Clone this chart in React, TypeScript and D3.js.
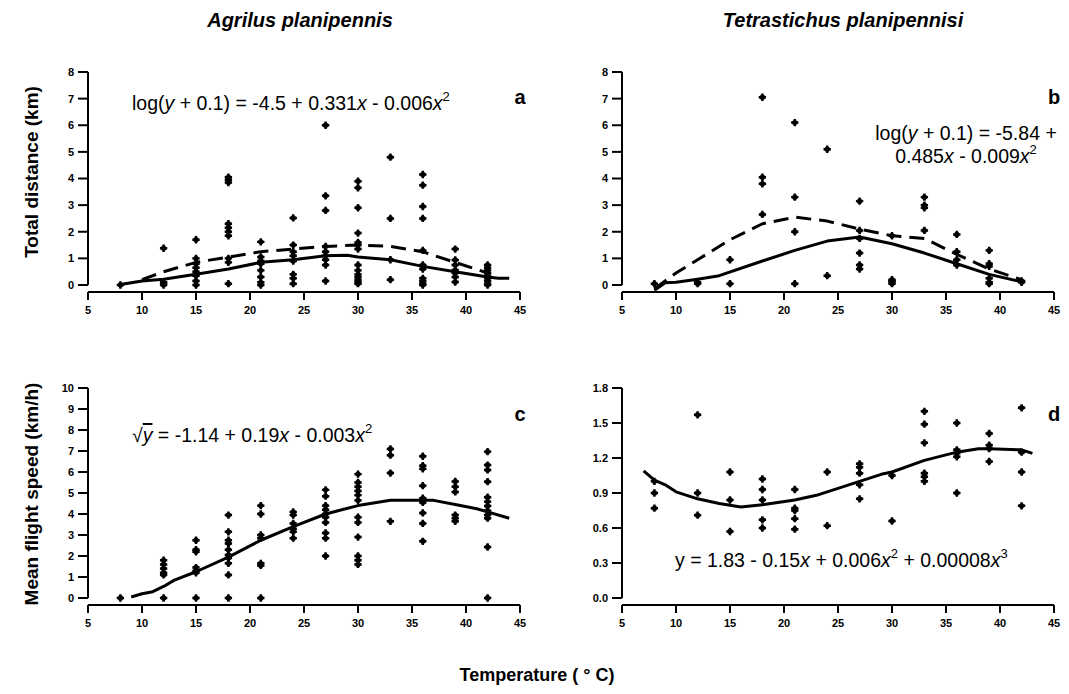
import React from 'react'
import * as d3 from 'd3'

// temperatures at which insects were flown (°C)
const rearTemps = [8, 12, 15, 18, 21, 24, 27, 30, 33, 36, 39, 42]
const tempTicks = [5, 10, 15, 20, 25, 30, 35, 40, 45]

// (a) total distance, Agrilus planipennis
const distAgrilus = [
  [0],
  [1.38, 0.1, 0.05, 0],
  [1.7, 1.0, 0.8, 0.65, 0.5, 0.35, 0.15, 0],
  [4.05, 3.95, 3.85, 2.3, 2.15, 2.0, 1.85, 1.0, 0.85, 0.05],
  [1.62, 1.05, 0.9, 0.8, 0.55, 0.3, 0.1, 0],
  [2.52, 1.5, 1.25, 1.1, 0.9, 0.4, 0.25, 0.05],
  [6.0, 3.35, 2.8, 1.45, 1.25, 1.1, 0.95, 0.75, 0.15],
  [3.9, 3.65, 2.9, 1.95, 1.6, 1.5, 1.35, 0.75, 0.55, 0.4, 0.3, 0.2, 0.1, 0.05],
  [4.8, 2.5, 0.95, 0.2],
  [4.15, 3.75, 2.95, 2.5, 1.3, 0.75, 0.6, 0.25, 0.15, 0.05, 0],
  [1.35, 0.94, 0.75, 0.56, 0.45, 0.3, 0.11],
  [0.75, 0.65, 0.55, 0.45, 0.35, 0.25, 0.15, 0.05, 0],
]
const distAgrilusFitX = [8, 10, 12, 15, 18, 21, 24, 27, 29, 30, 33, 36, 39, 42, 43, 44]
const distAgrilusFitY = [0.02, 0.15, 0.22, 0.4, 0.6, 0.85, 0.95, 1.1, 1.12, 1.05, 0.95, 0.7, 0.5, 0.3, 0.25, 0.25]
const distAgrilusObsX = [10, 12, 15, 18, 21, 24, 27, 30, 33, 36, 39, 42]
const distAgrilusObsY = [0.2, 0.5, 0.85, 1.05, 1.25, 1.35, 1.45, 1.5, 1.45, 1.25, 0.85, 0.45]

// (b) total distance, Tetrastichus planipennisi
const distTetra = [
  [0.05],
  [0.1, 0.05],
  [0.95, 0.05],
  [7.05, 4.05, 3.8, 2.65],
  [6.1, 3.3, 2.0, 0.05],
  [5.1, 0.35],
  [3.15, 2.05, 1.75, 1.2, 0.75, 0.6],
  [1.85, 0.2, 0.15, 0.1, 0.05],
  [3.3, 3.0, 2.9, 2.05],
  [1.9, 1.25, 0.95, 0.75],
  [1.3, 0.8, 0.7, 0.25, 0.1, 0.05],
  [0.15, 0.1],
]
const distTetraFitX = [8, 9, 10, 12, 14, 18, 21, 24, 27, 30, 33, 36, 39, 42]
const distTetraFitY = [-0.2, 0.08, 0.1, 0.22, 0.35, 0.9, 1.3, 1.65, 1.8, 1.55, 1.2, 0.8, 0.4, 0.12]
const distTetraObsX = [8, 10, 12, 15, 18, 21, 24, 27, 30, 33, 36, 39, 42]
const distTetraObsY = [-0.15, 0.45, 0.95, 1.7, 2.3, 2.55, 2.4, 2.1, 1.85, 1.75, 1.15, 0.6, 0.2]

// (c) mean flight speed, Agrilus planipennis
const speedAgrilus = [
  [0],
  [1.8, 1.6, 1.4, 1.2, 1.1, 0],
  [2.75, 2.3, 2.2, 1.45, 1.3, 1.2, 0],
  [3.95, 3.15, 2.75, 2.6, 2.3, 2.05, 1.9, 1.65, 1.1, 0],
  [4.4, 4.0, 3.0, 2.85, 1.65, 1.55, 0],
  [4.1, 3.95, 3.55, 3.3, 3.15, 2.85],
  [5.15, 4.85, 4.4, 4.2, 4.0, 3.85, 3.6, 3.1, 2.85, 2.0],
  [5.9, 5.5, 5.3, 5.1, 4.9, 4.65, 3.85, 3.6, 2.9, 2.0, 1.8, 1.6],
  [7.1, 6.8, 5.95, 3.65],
  [6.75, 6.3, 6.15, 5.35, 4.75, 4.55, 4.05, 3.55, 2.7],
  [5.55, 5.3, 5.05, 3.95, 3.8, 3.65],
  [6.97, 6.33, 6.1, 5.54, 4.8, 4.59, 4.38, 4.16, 3.95, 3.8, 2.43, 0],
]
const speedAgrilusFitX = [9, 10, 11, 12, 13, 15, 18, 21, 24, 27, 28.5, 30, 33, 36, 37, 39, 41, 42, 44]
const speedAgrilusFitY = [0.05, 0.2, 0.3, 0.55, 0.85, 1.25, 1.95, 2.75, 3.4, 4.0, 4.2, 4.4, 4.65, 4.65, 4.65, 4.45, 4.25, 4.1, 3.8]

// (d) mean flight speed, Tetrastichus planipennisi
const speedTetra = [
  [1.0, 0.9, 0.77],
  [1.57, 0.9, 0.71],
  [1.08, 0.84, 0.57],
  [1.02, 0.93, 0.84, 0.67, 0.6],
  [0.93, 0.77, 0.75, 0.68, 0.59],
  [1.08, 0.62],
  [1.15, 1.12, 1.07, 0.97, 0.85],
  [1.05, 0.66],
  [1.6, 1.49, 1.33, 1.07, 1.04, 1.0],
  [1.5, 1.27, 1.24, 1.21, 0.9],
  [1.41, 1.31, 1.28, 1.17],
  [1.63, 1.25, 1.08, 0.79],
]
const speedTetraFitX = [7, 8, 9, 10, 12, 14, 16, 18, 21, 23, 24, 27, 29, 30, 33, 36, 38, 39, 42, 43]
const speedTetraFitY = [1.09, 1.01, 0.97, 0.91, 0.85, 0.81, 0.78, 0.8, 0.84, 0.88, 0.91, 1.0, 1.06, 1.08, 1.18, 1.25, 1.28, 1.28, 1.27, 1.24]

const FONT = "'Liberation Sans', Arial, Helvetica, sans-serif"
const EQ = 19.5

type Curve = { xs: number[]; ys: number[]; dashed?: boolean }

type PanelProps = {
  left: number
  top: number
  bottom: number
  yMax: number
  yTicks: number[]
  yFormat: (v: number) => string
  values: number[][]
  curves: Curve[]
  letter: string
  letterDy: number
  children?: React.ReactNode
}

const Marker = ({ x, y }: { x: number; y: number }) => (
  <g transform={`translate(${x},${y})`}>
    <path d={d3.symbol(d3.symbolCross, 30)() || ''} fill="#000" />
    <circle r={2.7} fill="#000" />
  </g>
)

const Panel = ({ left, top, bottom, yMax, yTicks, yFormat, values, curves, letter, letterDy, children }: PanelProps) => {
  const x = d3.scaleLinear().domain([5, 45]).range([left, left + 432])
  const y = d3.scaleLinear().domain([0, yMax]).range([bottom, top])
  const axisY = bottom + 7
  const line = d3.line<number>()

  return (
    <g>
      {/* y axis */}
      <line x1={left} x2={left} y1={top} y2={bottom} stroke="#000" strokeWidth={2} />
      {yTicks.map(t => (
        <g key={'y' + t}>
          <line x1={left - 10} x2={left} y1={y(t)} y2={y(t)} stroke="#000" strokeWidth={2} />
          <text x={left - 14} y={y(t)} dy="0.36em" textAnchor="end" fontSize={11} fontWeight="bold">
            {yFormat(t)}
          </text>
        </g>
      ))}
      {/* x axis, detached below */}
      <line x1={left} x2={x(45)} y1={axisY} y2={axisY} stroke="#000" strokeWidth={2} />
      {tempTicks.map(t => (
        <g key={'x' + t}>
          <line x1={x(t)} x2={x(t)} y1={axisY} y2={axisY + 8} stroke="#000" strokeWidth={2} />
          <text x={x(t)} y={axisY + 22} textAnchor="middle" fontSize={11} fontWeight="bold">
            {t}
          </text>
        </g>
      ))}
      {/* fitted curves */}
      {curves.map((c, i) => (
        <path
          key={'c' + i}
          d={line.x((_, j) => x(c.xs[j])).y(v => y(v))(c.ys) || ''}
          fill="none"
          stroke="#000"
          strokeWidth={3}
          strokeDasharray={c.dashed ? '15,8' : undefined}
          strokeLinejoin="round"
        />
      ))}
      {/* observations */}
      {values.map((vals, i) =>
        vals.map((v, j) => <Marker key={i + '-' + j} x={x(rearTemps[i])} y={y(v)} />)
      )}
      <text x={x(45)} y={top + letterDy} textAnchor="middle" fontSize={20} fontWeight="bold">
        {letter}
      </text>
      {children}
    </g>
  )
}

const Sup = ({ children }: { children: React.ReactNode }) => (
  <tspan dy={-9} fontSize={13}>{children}</tspan>
)

export default function App() {
  const intFmt = (v: number) => String(v)
  const oneDec = d3.format('.1f')
  return (
    <svg
      width={1069}
      height={694}
      style={{ position: 'absolute', left: 0, top: 0, background: '#fff' }}
      fontFamily={FONT}
    >
      <rect width={1069} height={694} fill="#fff" />
      <text x={300} y={27} textAnchor="middle" fontSize={20} fontWeight="bold" fontStyle="italic">
        Agrilus planipennis
      </text>
      <text x={843} y={27} textAnchor="middle" fontSize={20} fontWeight="bold" fontStyle="italic">
        Tetrastichus planipennisi
      </text>

      <text transform="translate(38,172) rotate(-90)" textAnchor="middle" fontSize={19} fontWeight="bold">
        Total distance (km)
      </text>
      <text transform="translate(38,494) rotate(-90)" textAnchor="middle" fontSize={19} fontWeight="bold">
        Mean flight speed (km/h)
      </text>
      <text x={537} y={681} textAnchor="middle" fontSize={18} fontWeight="bold">
        Temperature ( ° C)
      </text>

      <Panel
        left={88}
        top={72}
        bottom={285}
        yMax={8}
        yTicks={d3.range(0, 9)}
        yFormat={intFmt}
        values={distAgrilus}
        curves={[
          { xs: distAgrilusFitX, ys: distAgrilusFitY },
          { xs: distAgrilusObsX, ys: distAgrilusObsY, dashed: true },
        ]}
        letter="a"
        letterDy={32}
      >
        <text x={132} y={110} fontSize={EQ}>
          log(<tspan fontStyle="italic">y</tspan> + 0.1) = -4.5 + 0.331<tspan fontStyle="italic">x</tspan> - 0.006
          <tspan fontStyle="italic">x</tspan>
          <Sup>2</Sup>
        </text>
      </Panel>

      <Panel
        left={622}
        top={72}
        bottom={285}
        yMax={8}
        yTicks={d3.range(0, 9)}
        yFormat={intFmt}
        values={distTetra}
        curves={[
          { xs: distTetraFitX, ys: distTetraFitY },
          { xs: distTetraObsX, ys: distTetraObsY, dashed: true },
        ]}
        letter="b"
        letterDy={32}
      >
        <text x={966} y={140} fontSize={EQ} textAnchor="middle">
          log(<tspan fontStyle="italic">y</tspan> + 0.1) = -5.84 +
        </text>
        <text x={966} y={163} fontSize={EQ} textAnchor="middle">
          0.485<tspan fontStyle="italic">x</tspan> - 0.009<tspan fontStyle="italic">x</tspan>
          <Sup>2</Sup>
        </text>
      </Panel>

      <Panel
        left={88}
        top={388}
        bottom={598}
        yMax={10}
        yTicks={d3.range(0, 11)}
        yFormat={intFmt}
        values={speedAgrilus}
        curves={[{ xs: speedAgrilusFitX, ys: speedAgrilusFitY }]}
        letter="c"
        letterDy={33}
      >
        <text x={132} y={442} fontSize={EQ}>
          √<tspan fontStyle="italic" textDecoration="overline">y</tspan> = -1.14 + 0.19
          <tspan fontStyle="italic">x</tspan> - 0.003<tspan fontStyle="italic">x</tspan>
          <Sup>2</Sup>
        </text>
      </Panel>

      <Panel
        left={622}
        top={388}
        bottom={598}
        yMax={1.8}
        yTicks={[0, 0.3, 0.6, 0.9, 1.2, 1.5, 1.8]}
        yFormat={oneDec}
        values={speedTetra}
        curves={[{ xs: speedTetraFitX, ys: speedTetraFitY }]}
        letter="d"
        letterDy={33}
      >
        <text x={675} y={567} fontSize={EQ}>
          y = 1.83 - 0.15<tspan fontStyle="italic">x</tspan> + 0.006<tspan fontStyle="italic">x</tspan>
          <Sup>2</Sup>
          <tspan dy={9}> + 0.00008</tspan>
          <tspan fontStyle="italic">x</tspan>
          <Sup>3</Sup>
        </text>
      </Panel>
    </svg>
  )
}
